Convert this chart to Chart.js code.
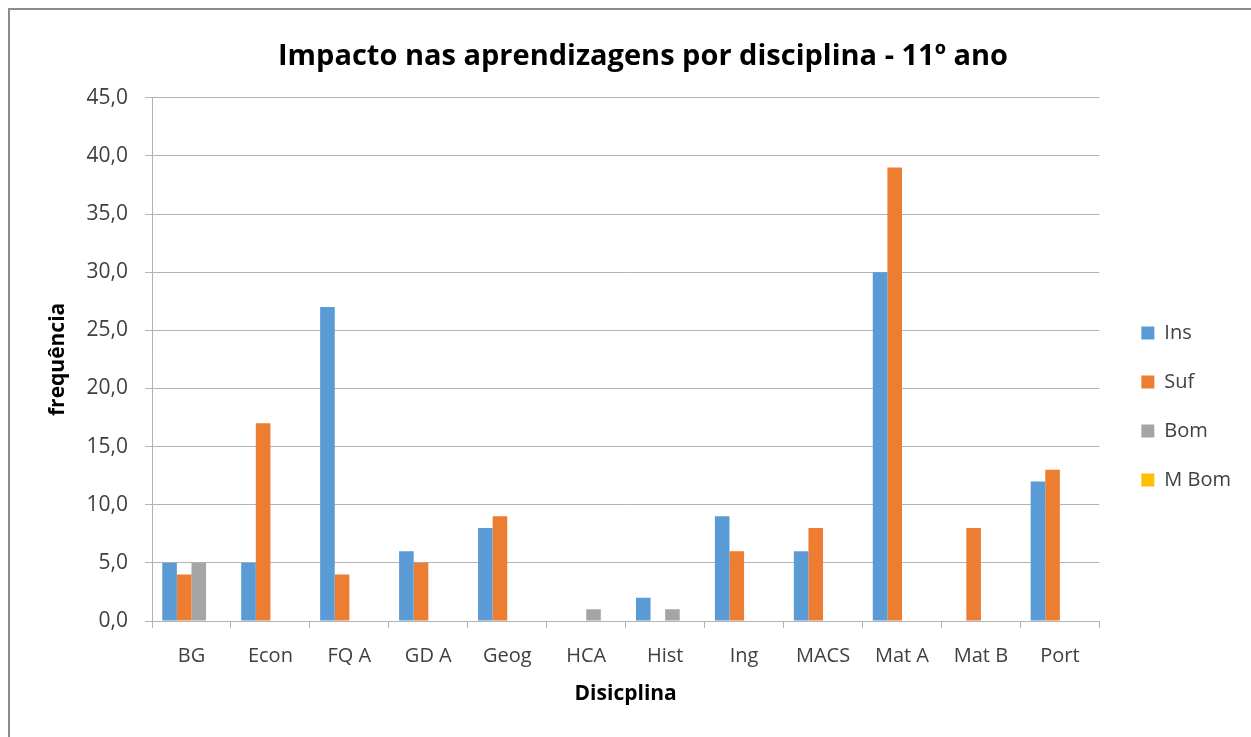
<!DOCTYPE html>
<html>
<head>
<meta charset="utf-8">
<script src="https://cdn.jsdelivr.net/npm/chart.js@4.4.1/dist/chart.umd.min.js"></script>
<style>
  html, body { margin: 0; padding: 0; background: #ffffff; }
  #wrap { position: relative; width: 1251px; height: 737px; overflow: hidden; }
  #c { position: absolute; left: 0; top: 0; }
  #frame { position: absolute; left: 8px; top: 8px; width: 1300px; height: 800px;
           border-left: 2px solid #8c8c8c; border-top: 2px solid #8c8c8c; pointer-events: none; }
</style>
</head>
<body>
<div id="wrap">
  <canvas id="c" width="1251" height="737"></canvas>
  <div id="frame"></div>
</div>
<script>
// ---- data ----
const categories = ['BG', 'Econ', 'FQ A', 'GD A', 'Geog', 'HCA', 'Hist', 'Ing', 'MACS', 'Mat A', 'Mat B', 'Port'];
const seriesNames = ['Ins', 'Suf', 'Bom', 'M Bom'];
const insValues  = [5, 5, 27, 6, 8, 0, 2, 9, 6, 30, 0, 12];
const sufValues  = [4, 17, 4, 5, 9, 0, 0, 6, 8, 39, 8, 13];
const bomValues  = [5, 0, 0, 0, 0, 1, 1, 0, 0, 0, 0, 0];
const mBomValues = [0, 0, 0, 0, 0, 0, 0, 0, 0, 0, 0, 0];
const yTicks = [0, 5, 10, 15, 20, 25, 30, 35, 40, 45];
const titleText = 'Impacto nas aprendizagens por disciplina - 11º ano';
const xTitle = 'Disicplina';
const yTitle = 'frequência';

const colors = ['#5B9BD5', '#ED7D31', '#A5A5A5', '#FFC000'];
const gridColor = '#b3b3b3';
const FONT = "'Open Sans', sans-serif";

Chart.defaults.font.family = FONT;
Chart.defaults.color = '#595959';

// spacer box between plot area and legend
const rightGap = {
  id: 'rightGap',
  beforeInit(chart) {
    Chart.layouts.addBox(chart, {
      position: 'right', weight: 500, fullSize: false,
      options: {},
      left: 0, top: 0, right: 0, bottom: 0, width: 0, height: 0,
      update(maxWidth, maxHeight) { this.width = 13; this.height = maxHeight; },
      isHorizontal() { return false; },
      getPadding() { return {left: 0, right: 0, top: 0, bottom: 0}; },
      draw() {}
    });
  }
};

const datasets = [insValues, sufValues, bomValues, mBomValues].map((vals, i) => ({
  label: seriesNames[i],
  data: vals,
  backgroundColor: colors[i],
  borderWidth: 0,
  categoryPercentage: 0.74,
  barPercentage: 1.0
}));

new Chart(document.getElementById('c'), {
  type: 'bar',
  data: { labels: categories, datasets },
  plugins: [rightGap],
  options: {
    responsive: false,
    animation: false,
    layout: { padding: { left: 45, right: 10, top: 0, bottom: 0 } },
    plugins: {
      title: {
        display: true,
        text: titleText,
        color: '#000000',
        font: { size: 29, weight: 'bold', family: FONT },
        padding: { top: 39, bottom: 24 }
      },
      legend: {
        position: 'right',
        align: 'center',
        title: { display: true, text: '', font: { size: 10 }, padding: { top: 64, bottom: 0 } },
        labels: {
          boxWidth: 13, boxHeight: 13, padding: 29,
          color: '#404040',
          font: { size: 20, family: FONT }
        }
      },
      tooltip: { enabled: false }
    },
    scales: {
      x: {
        offset: true,
        grid: { display: true, drawOnChartArea: false, drawTicks: true, tickLength: 7, color: gridColor, offset: true },
        border: { display: true, color: gridColor, width: 1 },
        ticks: { padding: 16, color: '#404040', font: { size: 20, family: FONT }, maxRotation: 0, autoSkip: false },
        title: { display: true, text: xTitle, color: '#000000', font: { size: 21, weight: 'bold', family: FONT }, padding: { top: 0, bottom: 30 } },
        afterFit(scale) { scale.height = 116; }
      },
      y: {
        min: 0, max: 45,
        afterBuildTicks(scale) { scale.ticks = yTicks.map(v => ({ value: v })); },
        grid: { display: true, drawOnChartArea: true, drawTicks: true, tickLength: 7, color: gridColor },
        border: { display: true, color: gridColor, width: 1 },
        ticks: {
          padding: 17, color: '#404040', font: { size: 21, family: FONT },
          callback: (v) => Number(v).toFixed(1).replace('.', ',')
        },
        title: { display: true, text: yTitle, color: '#000000', font: { size: 21, weight: 'bold', family: FONT }, padding: { top: 0, bottom: 0 } },
        afterFit(scale) { scale.width = 107; }
      }
    }
  }
});
</script>
</body>
</html>
